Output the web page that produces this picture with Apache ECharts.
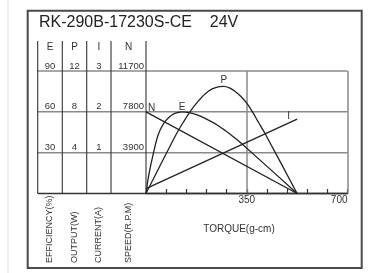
<!DOCTYPE html>
<html>
<head>
<meta charset="utf-8">
<script src="https://cdn.jsdelivr.net/npm/echarts@6/dist/echarts.min.js"></script>
<style>
html,body{margin:0;padding:0;background:#fff;}
#c{width:377px;height:273px;}
</style>
</head>
<body>
<div id="c"></div>
<script>
// ---- data ----
const title = "RK-290B-17230S-CE    24V";
const headers = ["E", "P", "I", "N"];
const axisNames = ["EFFICIENCY(%)", "OUTPUT(W)", "CURRENT(A)", "SPEED(R.P.M)"];
const xName = "TORQUE(g-cm)";
const xTicks = [0, 350, 700];
const xMinorStep = 70;
const eTicks = [0, 30, 60, 90];
const pTicks = [0, 4, 8, 12];
const iTicks = [0, 1, 2, 3];
const nTicks = [0, 3900, 7800, 11700];

const eTorque = [0, 10, 25, 42, 60, 80, 100, 125, 150, 175, 200, 225, 250, 275, 300, 325, 525];
const eValues = [0, 14, 29, 43, 51, 56, 58.8, 60, 59.5, 58, 55.8, 53, 50, 46.3, 42.3, 38, 0];

const pTorque = [0, 105, 130, 155, 180, 205, 230, 255, 270, 290, 310, 330, 350, 370, 390, 414, 525];
const pValues = [0, 5.8, 7.0, 8.1, 9.0, 9.75, 10.25, 10.48, 10.5, 10.35, 10.0, 9.5, 8.85, 8.0, 7.0, 5.85, 0];

const iTorque = [0, 525];
const iValues = [0.12, 1.82];

const nTorque = [0, 525];
const nValues = [7800, 0];

// ---- chart ----
const chart = echarts.init(document.getElementById('c'), null, {renderer: 'canvas', width: 377, height: 273});
const FONT = '"Liberation Sans", Arial, sans-serif';
const INK = '#222';
const GRAY = '#8a8a8a';

function pairs(xs, ys, labelIdx, labelText, labelOpt) {
  return xs.map((x, i) => {
    const d = {value: [x, ys[i]]};
    if (i === labelIdx) {
      d.label = Object.assign({show: true, formatter: labelText, color: '#333', fontSize: 10, fontFamily: FONT}, labelOpt);
    }
    return d;
  });
}

const cols = [37.7, 62.3, 86.7, 111, 146];
const plotRight = 347.5;

function yAx(ticks, offset, align, margin) {
  return {
    type: 'value', position: 'left', offset: offset,
    min: ticks[0], max: ticks[ticks.length - 1], interval: ticks[1] - ticks[0],
    axisLine: {show: false}, axisTick: {show: false}, splitLine: {show: false},
    axisLabel: {showMinLabel: false, align: align, margin: margin, verticalAlign: 'bottom',
      fontSize: 9.5, lineHeight: 10, color: '#333', fontFamily: FONT, formatter: v => String(v)}
  };
}

function lineSeries(data, yIdx) {
  return {
    type: 'line', yAxisIndex: yIdx, data: data, smooth: 0.3,
    showSymbol: true, symbol: 'circle', symbolSize: 0,
    lineStyle: {color: INK, width: 1.3}, itemStyle: {color: INK},
    label: {show: false}, emphasis: {disabled: true}, silent: true, z: 5
  };
}

const xMin = xTicks[0], xMax = xTicks[xTicks.length - 1];
const option = {
  animation: false,
  backgroundColor: '#fff',
  grid: {left: cols[4], right: 377 - plotRight, top: 71, bottom: 79.5, containLabel: false},
  xAxis: {
    type: 'value', min: xMin, max: xMax, interval: xMinorStep,
    axisLine: {show: true, lineStyle: {color: '#333', width: 1.3}},
    axisTick: {show: true, inside: true, length: 4.5, lineStyle: {color: '#333', width: 1.2}},
    splitLine: {show: false},
    axisLabel: {showMinLabel: false, alignMaxLabel: 'right', margin: 2, fontSize: 10, color: '#333', fontFamily: FONT,
      formatter: v => (xTicks.indexOf(v) > 0 ? String(v) : '')},
    name: xName, nameLocation: 'middle', nameGap: 31,
    nameTextStyle: {fontSize: 10, color: '#333', fontFamily: FONT, padding: [0, 15.5, 0, 0]}
  },
  yAxis: [
    yAx(eTicks, cols[4] - cols[1], 'center', 12.3),
    yAx(pTicks, cols[4] - cols[2], 'center', 12.2),
    yAx(iTicks, cols[4] - cols[3], 'center', 12.2),
    yAx(nTicks, 0, 'right', 2)
  ],
  series: [
    Object.assign(lineSeries(pairs(eTorque, eValues, eValues.indexOf(Math.max(...eValues)), 'E', {position: 'top', distance: 0}), 0), {
      markLine: {
        silent: true, symbol: 'none', label: {show: false}, z: 1,
        lineStyle: {color: GRAY, width: 1.5, type: 'solid'},
        data: xTicks.slice(1).map(v => ({xAxis: v}))
      }
    }),
    lineSeries(pairs(pTorque, pValues, pValues.indexOf(Math.max(...pValues)), 'P', {position: 'top', distance: 1}), 1),
    lineSeries(pairs(iTorque, iValues, iValues.length - 1, 'I', {position: 'left', distance: 5, offset: [-2, -3]}), 2),
    lineSeries(pairs(nTorque, nValues, 0, 'N', {position: 'right', distance: 2, offset: [0, -4]}), 3)
  ]
};
chart.setOption(option);

// ---- table framework (decoration), horizontal rules at tick pixels ----
const g = [];
g.push({type: 'rect', shape: {x: 7, y: 0, width: 2, height: 273}, style: {fill: '#ececec'}, silent: true});
g.push({type: 'rect', shape: {x: 27.7, y: 10.7, width: 334, height: 257.3}, style: {fill: 'none', stroke: '#4a4a4a', lineWidth: 2}, silent: true});
g.push({type: 'text', x: 39, y: 22.7, style: {text: title, font: '16px ' + FONT, fill: '#222', textAlign: 'left', textVerticalAlign: 'middle'}, silent: true});

eTicks.forEach((v, i) => {
  const y = chart.convertToPixel({yAxisIndex: 0}, v);
  g.push({type: 'line', shape: {x1: cols[0], y1: y, x2: plotRight, y2: y},
    style: {stroke: i === 0 ? '#333' : GRAY, lineWidth: i === 0 ? 1.3 : 1.5}, silent: true, z: 1});
});
const yBottom = chart.convertToPixel({yAxisIndex: 0}, eTicks[0]);
cols.forEach(x => {
  g.push({type: 'line', shape: {x1: x, y1: 41, x2: x, y2: yBottom}, style: {stroke: '#333', lineWidth: 1.1}, silent: true, z: 2});
});
headers.forEach((h, i) => {
  const cx = (cols[i] + cols[i + 1]) / 2;
  g.push({type: 'text', x: cx, y: 47, style: {text: h, font: '10px ' + FONT, fill: '#333', textAlign: 'center', textVerticalAlign: 'middle'}, silent: true});
  g.push({type: 'text', x: cx, y: 263, rotation: Math.PI / 2, style: {text: axisNames[i], font: '9px ' + FONT, fill: '#333', textAlign: 'left', textVerticalAlign: 'middle'}, silent: true});
});
chart.setOption({graphic: {elements: g}});
</script>
</body>
</html>
